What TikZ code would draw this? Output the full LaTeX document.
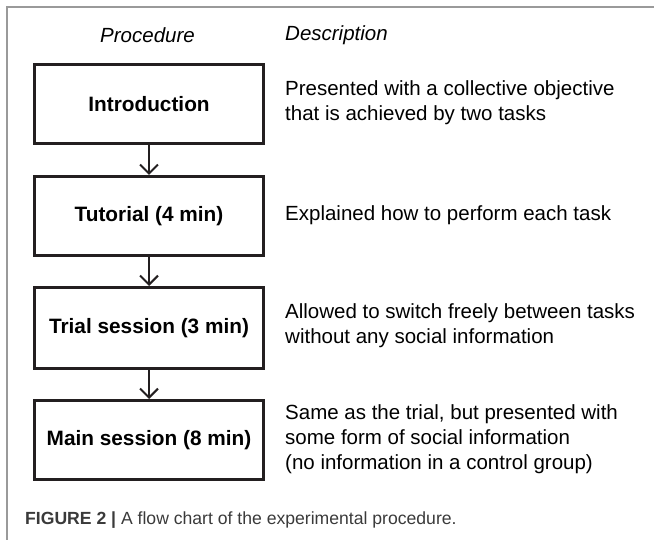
\documentclass[tikz,border=0pt]{standalone}
\usepackage{fontspec}
\setmainfont{Liberation Sans}
\usetikzlibrary{arrows.meta}
\definecolor{framegray}{HTML}{9A9A9A}
\definecolor{boxline}{HTML}{231F20}
\definecolor{captext}{HTML}{3A3A3A}
\begin{document}
\begin{tikzpicture}[x=1pt,y=-1pt,
  stepbox/.style={draw=boxline, line width=3pt, minimum width=229pt, minimum height=79pt, inner sep=0pt, font=\fontsize{20.8}{24}\selectfont\bfseries, anchor=north west},
  desc/.style={anchor=west, align=left, font=\fontsize{20.5}{25}\selectfont, inner sep=0pt},
  head/.style={font=\fontsize{20.5}{24}\selectfont\itshape, inner sep=0pt},
  flow/.style={draw=boxline, line width=2pt, -{Straight Barb[length=9pt,width=18pt,line width=2pt]}}]
\useasboundingbox (0,0) rectangle (654,540);
\draw[framegray, line width=2pt] (7,540) -- (7,7) -- (654,7);
\node[head] (hp) at (147.5,35) {Procedure};
\node[head, anchor=west] (hd) at (285,35) {Description};
\node[stepbox] (b1) at (33,63) {Introduction};
\node[stepbox] (b2) at (33,175) {Tutorial (4 min)};
\node[stepbox, minimum height=81pt] (b3) at (33,286) {Trial session (3 min)};
\node[stepbox] (b4) at (33,399) {Main session (8 min)};
\draw[flow] (b1.south) -- (b2.north);
\draw[flow] (b2.south) -- (b3.north);
\draw[flow] (b3.south) -- (b4.north);
\node[desc] (d1) at (285,103) {Presented with a collective objective\\that is achieved by two tasks};
\node[desc] (d2) at (285,215) {Explained how to perform each task};
\node[desc] (d3) at (285,326) {Allowed to switch freely between tasks\\without any social information};
\node[desc] (d4) at (285,439) {Same as the trial, but presented with\\some form of social information\\(no information in a control group)};
\node[anchor=west, inner sep=0pt, text=captext, font=\fontsize{17.6}{20}\selectfont] (cap) at (25,520) {\textbf{FIGURE 2} \textbf{|} A flow chart of the experimental procedure.};
\end{tikzpicture}
\end{document}
